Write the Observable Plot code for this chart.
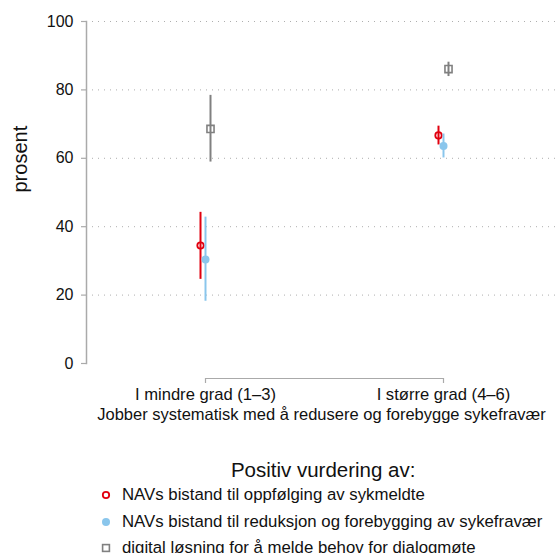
<!DOCTYPE html>
<html>
<head>
<meta charset="utf-8">
<script src="https://cdn.jsdelivr.net/npm/d3@7"></script>
<script src="https://cdn.jsdelivr.net/npm/@observablehq/plot@0.6"></script>
<style>
  body { margin: 0; background: #fff; font-family: "Liberation Sans", Arial, Helvetica, sans-serif; overflow: hidden; }
  #chart svg { display: block; }
  .legend { position: absolute; left: 98px; top: 458px; color: #111; white-space: nowrap; }
  .legend .title { font-size: 20.5px; text-align: center; padding-left: 6px; height: 24px; line-height: 24px; }
  .legend .item { font-size: 16.8px; height: 26.5px; line-height: 26.5px; display: flex; align-items: center; }
  .legend .item svg { width: 16px; height: 16px; margin-right: 8px; flex: none; }
</style>
</head>
<body>
<div id="chart"></div>
<div class="legend" id="legend"></div>
<script>
// Groups on the x axis
const groups = ["I mindre grad (1–3)", "I større grad (4–6)"];

// Series shown in the legend
const series = [
  "NAVs bistand til oppfølging av sykmeldte",
  "NAVs bistand til reduksjon og forebygging av sykefravær",
  "digital løsning for å melde behov for dialogmøte"
];

// Point estimates (percent) per series, one value per group
const estimate = [
  [34.5, 66.7],
  [30.4, 63.6],
  [68.6, 86.1]
];
// Lower and upper confidence limits
const lower = [
  [24.6, 63.9],
  [18.2, 60.1],
  [58.9, 83.9]
];
const upper = [
  [44.2, 69.4],
  [42.8, 67.1],
  [78.4, 88.1]
];

const yTicks = [0, 20, 40, 60, 80, 100];
const yLabel = "prosent";
const xTitle = "Jobber systematisk med å redusere og forebygge sykefravær";
const legendTitle = "Positiv vurdering av:";

const colors = ["#e1000f", "#8ac6ec", "#808080"];
const offsets = [-5, 0, 5];

const rows = series.flatMap((s, i) => groups.map((g, j) => ({
  series: s, group: g, est: estimate[i][j], lo: lower[i][j], hi: upper[i][j]
})));

const seriesMarks = series.flatMap((s, i) => {
  const d = rows.filter(r => r.series === s);
  const ci = Plot.ruleX(d, {x: "group", y1: "lo", y2: "hi", dx: offsets[i], stroke: colors[i], strokeWidth: 2});
  let pt;
  if (i === 0) pt = Plot.dot(d, {x: "group", y: "est", dx: offsets[i], r: 3.2, stroke: colors[i], strokeWidth: 1.8, fill: "none"});
  else if (i === 1) pt = Plot.dot(d, {x: "group", y: "est", dx: offsets[i], r: 4, fill: colors[i], stroke: "none"});
  else pt = Plot.dot(d, {x: "group", y: "est", dx: offsets[i], r: 4, symbol: "square", stroke: colors[i], strokeWidth: 1.6, fill: "none"});
  return [ci, pt];
});

const chart = Plot.plot({
  width: 558,
  height: 430,
  marginTop: 21,
  marginBottom: 67,
  marginLeft: 86,
  marginRight: 2,
  style: {fontFamily: "Liberation Sans, Arial, Helvetica, sans-serif", color: "#111"},
  x: {type: "point", domain: groups, range: [205, 443], padding: 0},
  y: {domain: [0, 100]},
  marks: [
    Plot.gridY(yTicks.filter(t => t > 0), {stroke: "#a0a0a0", strokeOpacity: 0.85, strokeDasharray: "1,5", strokeWidth: 1}),
    Plot.frame({anchor: "left", stroke: "#aaaaaa", strokeWidth: 1.5}),
    Plot.axisY(yTicks, {tickSize: 5, tickPadding: 8, fontSize: 16, stroke: "#aaaaaa", strokeWidth: 1.2, label: null}),
    Plot.text([yLabel], {frameAnchor: "left", dx: -66, rotate: -90, fontSize: 20}),
    Plot.ruleY([0], {x1: () => groups[0], x2: () => groups[1], dy: 15, stroke: "#aaaaaa", strokeWidth: 1.2}),
    Plot.axisX({dy: 15, tickSize: 5, tickPadding: 5, fontSize: 16.6, stroke: "#aaaaaa", strokeWidth: 1.2, label: null}),
    Plot.text([xTitle], {frameAnchor: "bottom", dy: 56, fontSize: 16.5}),
    ...seriesMarks
  ]
});
document.getElementById("chart").append(chart);

// Legend below the chart
const legend = document.getElementById("legend");
const title = document.createElement("div");
title.className = "title";
title.textContent = legendTitle;
legend.append(title);
const markerSvg = [
  `<svg viewBox="0 0 16 16"><circle cx="8" cy="8" r="3.2" fill="none" stroke="${colors[0]}" stroke-width="1.8"/></svg>`,
  `<svg viewBox="0 0 16 16"><circle cx="8" cy="8" r="4" fill="${colors[1]}"/></svg>`,
  `<svg viewBox="0 0 16 16"><rect x="4.6" y="4.6" width="6.8" height="6.8" fill="none" stroke="${colors[2]}" stroke-width="1.6"/></svg>`
];
series.forEach((s, i) => {
  const item = document.createElement("div");
  item.className = "item";
  item.innerHTML = markerSvg[i] + `<span>${s}</span>`;
  legend.append(item);
});
</script>
</body>
</html>
